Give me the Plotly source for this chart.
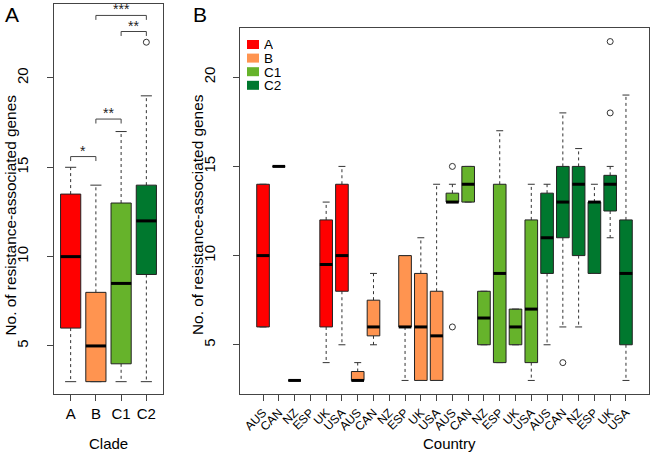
import plotly.graph_objects as go

W, H = 650, 452

# clades and colours
clades = ["A", "B", "C1", "C2"]
clade_colors = ["#FF0000", "#FF9450", "#66B32B", "#00782E"]

# panel A: boxplot stats per clade
clade_q1 = [6, 3, 4, 9]
clade_med = [10, 5, 8.5, 12]
clade_q3 = [13.5, 8, 13, 14]
clade_lo = [3, 3, 3, 3]
clade_hi = [15, 14, 17, 19]
clade_out = [[], [], [], [22]]

# significance brackets (panel A)
sig_from = [1, 2, 3, 2]
sig_to = [2, 3, 4, 4]
sig_y = [15.6, 17.7, 22.6, 23.5]
sig_text = ["*", "**", "**", "***"]

# panel B: clade x country, None = no isolates
countries = ["AUS", "CAN", "NZ", "ESP", "UK", "USA"]
country_q1 = [6, 15, 3, None, 6, 8,
              3, 5.5, None, 6, 3, 3,
              13, 13, 5, 4, 5, 4,
              9, 11, 10, 9, 12.5, 5]
country_med = [10, 15, 3, None, 9.5, 10,
               3, 6, None, 6, 6, 5.5,
               13, 14, 6.5, 9, 6, 7,
               11, 13, 14, 13, 14, 9]
country_q3 = [14, 15, 3, None, 12, 14,
              3.5, 7.5, None, 10, 9, 8,
              13.5, 15, 8, 14, 7, 12,
              13.5, 15, 15, 13, 14.5, 12]
country_lo = [6, 15, 3, None, 4, 5,
              3, 5, None, 3, 3, 3,
              13, 13, 5, 4, 5, 3,
              5, 6, 6, 9, 11, 3]
country_hi = [14, 15, 3, None, 13, 15,
              4, 9, None, 10, 11, 14,
              14, 15, 8, 17, 7, 14,
              14, 18, 16, 14, 15, 19]
country_out = [[], [], [], [], [], [],
               [], [], [], [], [], [],
               [6, 15], [], [], [], [], [],
               [], [4], [], [], [18, 22], []]

FONT = "Liberation Sans, Arial, sans-serif"
EDGE = "#222222"
HW = 0.4    # half box width
CW = 0.22   # half staple width


def box_traces(xs, q1, med, q3, lo, hi, outs, cols, xa, ya):
    traces = []
    # whiskers
    wx, wy = [], []
    for x, a, b, l, h in zip(xs, q1, q3, lo, hi):
        wx += [x, x, None, x, x, None]
        wy += [b, h, None, a, l, None]
    traces.append(go.Scatter(x=wx, y=wy, mode="lines", xaxis=xa, yaxis=ya,
                             line=dict(color="#333333", width=1, dash="3px,3px"),
                             hoverinfo="skip", showlegend=False))
    # boxes, one trace per colour
    for c in dict.fromkeys(cols):
        bx, by = [], []
        for x, a, b, cc in zip(xs, q1, q3, cols):
            if cc != c:
                continue
            bx += [x - HW, x + HW, x + HW, x - HW, x - HW, None]
            by += [a, a, b, b, a, None]
        traces.append(go.Scatter(x=bx, y=by, mode="lines", fill="toself",
                                 fillcolor=c, xaxis=xa, yaxis=ya,
                                 line=dict(color=EDGE, width=1),
                                 hoverinfo="skip", showlegend=False))
    # staples
    sx, sy = [], []
    for x, l, h in zip(xs, lo, hi):
        sx += [x - CW, x + CW, None, x - CW, x + CW, None]
        sy += [h, h, None, l, l, None]
    traces.append(go.Scatter(x=sx, y=sy, mode="lines", xaxis=xa, yaxis=ya,
                             line=dict(color="#333333", width=1),
                             hoverinfo="skip", showlegend=False))
    # medians
    mx, my = [], []
    for x, m in zip(xs, med):
        mx += [x - HW, x + HW, None]
        my += [m, m, None]
    traces.append(go.Scatter(x=mx, y=my, mode="lines", xaxis=xa, yaxis=ya,
                             line=dict(color="black", width=3),
                             hoverinfo="skip", showlegend=False))
    # outliers
    ox, oy = [], []
    for x, o in zip(xs, outs):
        ox += [x] * len(o)
        oy += o
    traces.append(go.Scatter(x=ox, y=oy, mode="markers", xaxis=xa, yaxis=ya,
                             marker=dict(symbol="circle-open", size=6,
                                         color="#333333", line=dict(width=1)),
                             hoverinfo="skip", showlegend=False))
    return traces


fig = go.Figure()

# panel A
xa_pos = list(range(1, len(clades) + 1))
for t in box_traces(xa_pos, clade_q1, clade_med, clade_q3, clade_lo, clade_hi,
                    clade_out, clade_colors, "x", "y"):
    fig.add_trace(t)

# significance brackets
bx, by = [], []
for a, b, yv in zip(sig_from, sig_to, sig_y):
    bx += [a, a, b, b, None]
    by += [yv - 0.25, yv, yv, yv - 0.25, None]
fig.add_trace(go.Scatter(x=bx, y=by, mode="lines", xaxis="x", yaxis="y",
                         line=dict(color="#444444", width=1),
                         hoverinfo="skip", showlegend=False))
for a, b, yv, s in zip(sig_from, sig_to, sig_y, sig_text):
    fig.add_annotation(x=(a + b) / 2, y=yv, xref="x", yref="y", text=s,
                       showarrow=False, xanchor="center", yanchor="bottom", yshift=-4,
                       font=dict(family=FONT, size=14, color="#222"))

# panel B
keep = [i for i, v in enumerate(country_q1) if v is not None]
xb_pos = [i + 1 for i in keep]
cols_b = [clade_colors[i // len(countries)] for i in keep]
pick = lambda arr: [arr[i] for i in keep]
for t in box_traces(xb_pos, pick(country_q1), pick(country_med), pick(country_q3),
                    pick(country_lo), pick(country_hi), pick(country_out),
                    cols_b, "x2", "y2"):
    fig.add_trace(t)

tick_b = countries * len(clades)

axis_common = dict(showline=True, mirror=True, linecolor="#444444", linewidth=1,
                   ticks="outside", ticklen=6, tickcolor="#444444",
                   showgrid=False, zeroline=False,
                   tickfont=dict(family=FONT, size=15, color="black"))

fig.update_layout(
    width=W, height=H,
    margin=dict(l=0, r=0, t=0, b=0),
    paper_bgcolor="white", plot_bgcolor="white",
    showlegend=False,
    xaxis=dict(domain=[54 / W, 163 / W], range=[0.34, 4.66],
               tickvals=xa_pos, ticktext=clades, anchor="y", **axis_common),
    yaxis=dict(domain=[1 - 394 / H, 1 - 4 / H], range=[2.31, 24.14],
               tickvals=[5, 10, 15, 20], tickangle=-90, anchor="x",
               ticklabelstandoff=13, **axis_common),
    xaxis2=dict(domain=[240 / W, 649 / W], range=[-0.46, 25.46],
                tickvals=list(range(1, 25)), ticktext=tick_b, tickangle=-45,
                anchor="y2", **{**axis_common,
                                "tickfont": dict(family=FONT, size=12, color="black")}),
    yaxis2=dict(domain=[1 - 394 / H, 1 - 28 / H], range=[2.24, 22.76],
                tickvals=[5, 10, 15, 20], tickangle=-90, anchor="x2",
                ticklabelstandoff=12, **axis_common),
)

# axis titles and panel letters
ann = dict(xref="paper", yref="paper", showarrow=False,
           xanchor="center", yanchor="middle")
ytitle = "No. of resistance-associated genes"
fig.add_annotation(x=9.5 / W, y=1 - 215 / H, text=ytitle, textangle=-90,
                   font=dict(family=FONT, size=15.4, color="black"), **ann)
fig.add_annotation(x=197 / W, y=1 - 215 / H, text=ytitle, textangle=-90,
                   font=dict(family=FONT, size=15.4, color="black"), **ann)
fig.add_annotation(x=108 / W, y=1 - 443 / H, text="Clade",
                   font=dict(family=FONT, size=15, color="black"), **ann)
fig.add_annotation(x=449 / W, y=1 - 443 / H, text="Country",
                   font=dict(family=FONT, size=15, color="black"), **ann)
fig.add_annotation(x=11.5 / W, y=1 - 14 / H, text="A",
                   font=dict(family=FONT, size=21, color="black"), **ann)
fig.add_annotation(x=200 / W, y=1 - 14 / H, text="B",
                   font=dict(family=FONT, size=21, color="black"), **ann)

# legend in panel B
for i, (lab, c) in enumerate(zip(clades, clade_colors)):
    yc = 44.5 + i * 13.6
    fig.add_shape(type="rect", xref="paper", yref="paper",
                  x0=247 / W, x1=259 / W, y0=1 - (yc - 4.5) / H, y1=1 - (yc + 4.5) / H,
                  fillcolor=c, line=dict(width=0))
    fig.add_annotation(x=262 / W, y=1 - yc / H, text=lab, height=12,
                       font=dict(family=FONT, size=13.5, color="black"),
                       **{**ann, "xanchor": "left"})

# browser default body margin would push the figure off the window
fig.write_html("out.html", config={"displayModeBar": False},
               post_script="document.body.style.margin='0px';")
